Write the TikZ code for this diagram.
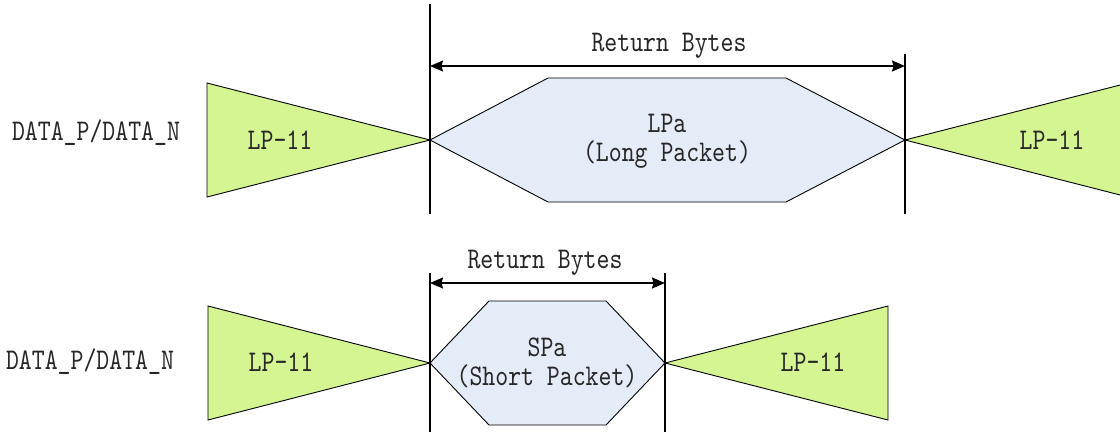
\documentclass[tikz,border=0pt]{standalone}
\usepackage{fontspec}
\newfontfamily\simfont{lmmono10-regular.otf}[FakeStretch=0.82]
\usetikzlibrary{arrows.meta}
\definecolor{lpgreen}{RGB}{212,245,145}
\definecolor{pktblue}{RGB}{228,236,247}

\begin{document}
\begin{tikzpicture}[
  x=1pt, y=-1pt,
  font=\simfont\fontsize{30}{29}\selectfont,
  lpwedge/.style={fill=lpgreen, draw=black, line width=0.9pt},
  packet/.style={fill=pktblue, draw=black, line width=0.9pt},
  marker/.style={draw=black, line width=1.6pt},
  span/.style={{Stealth[length=13pt,width=11pt,inset=1.5pt]}-{Stealth[length=13pt,width=11pt,inset=1.5pt]}, line width=1.6pt},
  lbl/.style={inner sep=0pt, text=black!85, align=center}
]
\useasboundingbox (0,0) rectangle (1120,432);

% Top row: long packet
\coordinate (LA) at (430,140);
\coordinate (LB) at (905,140);
\draw[lpwedge] (207,83) -- (LA) -- (207,197) -- cycle;
\draw[packet] (LA) -- (548,78) -- (786,78) -- (LB) -- (786,202) -- (548,202) -- cycle;
\begin{scope}
  \clip (0,0) rectangle (1120,432);
  \draw[lpwedge] (LB) -- (1128,83) -- (1128,197) -- cycle;
\end{scope}

\coordinate (LAtop) at (430,4);   \coordinate (LAbot) at (430,214);
\coordinate (LBtop) at (905,54);  \coordinate (LBbot) at (905,214);
\draw[marker] (LAtop) -- (LAbot);
\draw[marker] (LBtop) -- (LBbot);

\coordinate (LArr1) at (430,66);
\coordinate (LArr2) at (905,66);
\draw[span] (LArr1) -- (LArr2);
\node[lbl] (lbytes) at (669,46) {Return Bytes};

\node[lbl] (lname) at (96,133) {DATA\_P/DATA\_N};
\node[lbl] (lpleft) at (280,140) {LP-11};
\node[lbl] (lpright) at (1052,140) {LP-11};
\node[lbl] (lpkt) at (667,141) {LPa\\(Long Packet)};

% Bottom row: short packet
\coordinate (SA) at (430,363);
\coordinate (SB) at (665,363);
\draw[lpwedge] (208,306) -- (SA) -- (208,420) -- cycle;
\draw[packet] (SA) -- (489,301) -- (606,301) -- (SB) -- (606,425) -- (489,425) -- cycle;
\draw[lpwedge] (SB) -- (888,306) -- (888,420) -- cycle;

\coordinate (SAtop) at (430,273); \coordinate (SAbot) at (430,432);
\coordinate (SBtop) at (665,273); \coordinate (SBbot) at (665,432);
\draw[marker] (SAtop) -- (SAbot);
\draw[marker] (SBtop) -- (SBbot);

\coordinate (SArr1) at (430,283);
\coordinate (SArr2) at (665,283);
\draw[span] (SArr1) -- (SArr2);
\node[lbl] (sbytes) at (545,263) {Return Bytes};

\node[lbl] (sname) at (90,362) {DATA\_P/DATA\_N};
\node[lbl] (spleft) at (281,362) {LP-11};
\node[lbl] (spright) at (813,362) {LP-11};
\node[lbl] (spkt) at (547,363) {SPa\\(Short Packet)};

\end{tikzpicture}
\end{document}
